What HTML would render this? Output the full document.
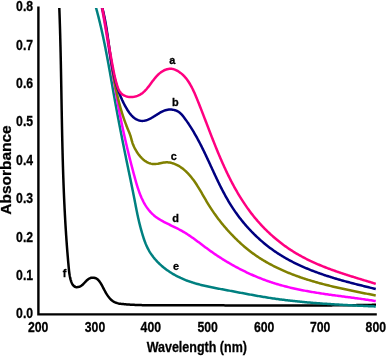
<!DOCTYPE html>
<html><head><meta charset="utf-8"><style>
html,body{margin:0;padding:0;background:#fff;width:387px;height:357px;overflow:hidden}
svg{display:block;font-family:"Liberation Sans",sans-serif}
#w{width:387px;height:357px;will-change:transform}
</style></head><body><div id="w">
<svg width="387" height="357" viewBox="0 0 387 357">
<rect width="387" height="357" fill="#fff"/>
<g>
<path d="M38.4 6.5 V314.4 H376.8" fill="none" stroke="#000" stroke-width="2.4" stroke-linecap="butt" stroke-linejoin="miter"/>
<defs><clipPath id="cp"><rect x="38" y="7.9" width="345" height="310"/></clipPath></defs><g clip-path="url(#cp)">
<path d="M59.12 3.02 59.17 4.21 59.22 5.41 59.26 6.61 59.31 7.81 59.35 9.00 59.40 10.20 59.44 11.40 59.48 12.59 59.53 13.79 59.57 14.99 59.61 16.18 59.65 17.38 59.69 18.58 59.73 19.78 59.77 20.97 59.80 22.17 59.84 23.37 59.88 24.56 59.92 25.76 59.95 26.96 59.99 28.16 60.02 29.35 60.06 30.55 60.09 31.75 60.12 32.95 60.16 34.14 60.19 35.34 60.22 36.54 60.25 37.74 60.28 38.93 60.31 40.13 60.34 41.33 60.37 42.53 60.40 43.72 60.43 44.92 60.46 46.12 60.49 47.32 60.52 48.51 60.55 49.71 60.57 50.91 60.60 52.11 60.63 53.30 60.65 54.50 60.68 55.70 60.71 56.90 60.73 58.09 60.76 59.29 60.78 60.49 60.81 61.69 60.83 62.88 60.85 64.08 60.88 65.28 60.90 66.48 60.92 67.67 60.95 68.87 60.97 70.07 60.99 71.27 61.02 72.46 61.04 73.66 61.06 74.86 61.08 76.06 61.10 77.25 61.13 78.45 61.15 79.65 61.17 80.85 61.19 82.05 61.21 83.24 61.23 84.44 61.25 85.64 61.28 86.84 61.30 88.03 61.32 89.23 61.34 90.43 61.36 91.63 61.38 92.82 61.40 94.02 61.42 95.22 61.44 96.42 61.46 97.61 61.48 98.81 61.51 100.01 61.53 101.21 61.55 102.40 61.57 103.60 61.59 104.80 61.61 106.00 61.63 107.20 61.65 108.39 61.67 109.59 61.69 110.79 61.72 111.99 61.74 113.18 61.76 114.38 61.78 115.58 61.80 116.78 61.82 117.97 61.85 119.17 61.87 120.37 61.89 121.57 61.91 122.76 61.94 123.96 61.96 125.16 61.98 126.36 62.01 127.55 62.03 128.75 62.06 129.95 62.08 131.15 62.10 132.35 62.13 133.54 62.15 134.74 62.18 135.94 62.21 137.14 62.23 138.33 62.26 139.53 62.28 140.73 62.31 141.93 62.34 143.12 62.37 144.32 62.39 145.52 62.42 146.72 62.45 147.91 62.48 149.11 62.51 150.31 62.54 151.51 62.57 152.70 62.60 153.90 62.63 155.10 62.66 156.30 62.69 157.49 62.73 158.69 62.76 159.89 62.79 161.08 62.83 162.28 62.86 163.48 62.90 164.68 62.93 165.87 62.97 167.07 63.00 168.27 63.04 169.47 63.08 170.66 63.12 171.86 63.15 173.06 63.19 174.25 63.23 175.45 63.27 176.65 63.31 177.85 63.36 179.04 63.40 180.24 63.44 181.44 63.48 182.63 63.53 183.83 63.57 185.03 63.62 186.23 63.66 187.42 63.71 188.62 63.76 189.82 63.80 191.01 63.85 192.21 63.90 193.41 63.95 194.60 64.00 195.80 64.05 197.00 64.11 198.19 64.16 199.39 64.21 200.59 64.27 201.78 64.32 202.98 64.38 204.18 64.44 205.37 64.49 206.57 64.55 207.77 64.61 208.96 64.67 210.16 64.73 211.35 64.80 212.55 64.86 213.75 64.92 214.94 64.99 216.14 65.05 217.34 65.12 218.53 65.18 219.73 65.25 220.92 65.32 222.12 65.39 223.31 65.46 224.51 65.53 225.71 65.61 226.90 65.68 228.10 65.76 229.29 65.83 230.49 65.91 231.68 65.99 232.88 66.06 234.07 66.14 235.27 66.23 236.46 66.31 237.66 66.39 238.85 66.47 240.05 66.56 241.24 66.65 242.44 66.73 243.63 66.82 244.83 66.91 246.02 67.00 247.22 67.09 248.41 67.18 249.61 67.28 250.80 67.37 251.99 67.47 253.19 67.57 254.38 67.67 255.58 67.77 256.77 67.87 257.96 67.97 259.16 68.07 260.35 68.18 261.54 68.28 262.74 68.39 263.93 68.50 265.12 68.61 266.31 68.72 267.51 68.83 268.70 68.95 269.89 69.07 271.08 69.21 272.27 69.37 273.46 69.55 274.64 69.75 275.82 69.98 277.00 70.24 278.17 70.53 279.33 70.86 280.48 71.24 281.62 71.67 282.74 72.19 283.82 72.81 284.84 73.57 285.76 74.50 286.51 75.59 286.99 76.77 287.19 77.97 287.12 79.13 286.84 80.23 286.38 81.27 285.77 82.22 285.05 83.10 284.24 83.94 283.39 84.76 282.51 85.58 281.63 86.41 280.77 87.28 279.95 88.20 279.19 89.21 278.54 90.30 278.05 91.46 277.75 92.65 277.64 93.85 277.71 95.01 277.97 96.12 278.41 97.14 279.04 98.06 279.81 98.88 280.68 99.62 281.62 100.30 282.61 100.93 283.63 101.52 284.67 102.09 285.72 102.65 286.78 103.21 287.84 103.77 288.90 104.33 289.96 104.90 291.01 105.48 292.06 106.07 293.10 106.69 294.13 107.33 295.14 108.01 296.13 108.72 297.09 109.47 298.02 110.28 298.91 111.13 299.75 112.04 300.53 113.01 301.23 114.04 301.85 115.11 302.37 116.23 302.80 117.38 303.15 118.54 303.43 119.72 303.65 120.90 303.83 122.09 303.98 123.28 304.10 124.48 304.21 125.67 304.32 126.86 304.41 128.06 304.50 129.25 304.58 130.45 304.66 131.64 304.73 132.84 304.79 134.04 304.85 135.23 304.91 136.43 304.96 137.63 305.00 138.82 305.04 140.02 305.07 141.22 305.10 142.42 305.13 143.61 305.15 144.81 305.17 146.01 305.19 147.21 305.20 148.41 305.21 149.60 305.22 150.80 305.23 152.00 305.23 153.20 305.24 154.39 305.24 155.59 305.24 156.79 305.24 157.99 305.24 159.19 305.24 160.38 305.23 161.58 305.23 162.78 305.23 163.98 305.23 165.17 305.23 166.37 305.23 167.57 305.23 168.77 305.23 169.97 305.23 171.16 305.23 172.36 305.23 173.56 305.23 174.76 305.23 175.96 305.24 177.15 305.24 178.35 305.24 179.55 305.24 180.75 305.24 181.94 305.24 183.14 305.25 184.34 305.25 185.54 305.25 186.74 305.25 187.93 305.26 189.13 305.26 190.33 305.26 191.53 305.26 192.72 305.27 193.92 305.27 195.12 305.27 196.32 305.28 197.52 305.28 198.71 305.28 199.91 305.29 201.11 305.29 202.31 305.29 203.51 305.30 204.70 305.30 205.90 305.31 207.10 305.31 208.30 305.31 209.49 305.32 210.69 305.32 211.89 305.33 213.09 305.33 214.29 305.34 215.48 305.34 216.68 305.34 217.88 305.35 219.08 305.35 220.27 305.36 221.47 305.36 222.67 305.37 223.87 305.37 225.07 305.38 226.26 305.38 227.46 305.38 228.66 305.39 229.86 305.39 231.05 305.40 232.25 305.40 233.45 305.41 234.65 305.41 235.85 305.42 237.04 305.42 238.24 305.42 239.44 305.43 240.64 305.43 241.84 305.44 243.03 305.44 244.23 305.45 245.43 305.45 246.63 305.45 247.82 305.46 249.02 305.46 250.22 305.47 251.42 305.47 252.62 305.47 253.81 305.48 255.01 305.48 256.21 305.48 257.41 305.49 258.60 305.49 259.80 305.49 261.00 305.50 262.20 305.50 263.40 305.50 264.59 305.51 265.79 305.51 266.99 305.51 268.19 305.51 269.38 305.52 270.58 305.52 271.78 305.52 272.98 305.52 274.18 305.52 275.37 305.53 276.57 305.53 277.77 305.53 278.97 305.53 280.17 305.53 281.36 305.53 282.56 305.53 283.76 305.53 284.96 305.53 286.15 305.53 287.35 305.53 288.55 305.53 289.75 305.53 290.95 305.53 292.14 305.53 293.34 305.53 294.54 305.53 295.74 305.53 296.93 305.53 298.13 305.53 299.33 305.52 300.53 305.52 301.73 305.52 302.92 305.52 304.12 305.52 305.32 305.51 306.52 305.51 307.72 305.51 308.91 305.50 310.11 305.50 311.31 305.49 312.51 305.49 313.70 305.48 314.90 305.48 316.10 305.47 317.30 305.47 318.50 305.46 319.69 305.46 320.89 305.45 322.09 305.44 323.29 305.44 324.48 305.43 325.68 305.42 326.88 305.41 328.08 305.41 329.28 305.40 330.47 305.39 331.67 305.38 332.87 305.37 334.07 305.36 335.26 305.35 336.46 305.34 337.66 305.33 338.86 305.32 340.06 305.31 341.25 305.29 342.45 305.28 343.65 305.27 344.85 305.26 346.04 305.24 347.24 305.23 348.44 305.22 349.64 305.20 350.84 305.19 352.03 305.17 353.23 305.16 354.43 305.14 355.63 305.13 356.82 305.11 358.02 305.09 359.22 305.08 360.42 305.06 361.61 305.04 362.81 305.02 364.01 305.00 365.21 304.98 366.41 304.96 367.60 304.94 368.80 304.92 370.00 304.90 371.20 304.88 372.39 304.86 373.59 304.84 374.79 304.81 375.99 304.79" fill="none" stroke="#000000" stroke-width="2.5" stroke-linejoin="round" stroke-linecap="butt"/>
<path d="M94.70 3.04 95.03 4.19 95.36 5.35 95.69 6.50 96.01 7.66 96.33 8.81 96.64 9.97 96.96 11.13 97.26 12.29 97.57 13.45 97.87 14.61 98.17 15.77 98.47 16.93 98.76 18.10 99.05 19.26 99.34 20.43 99.62 21.59 99.91 22.76 100.18 23.92 100.46 25.09 100.73 26.26 101.01 27.43 101.27 28.60 101.54 29.77 101.80 30.94 102.06 32.11 102.32 33.28 102.58 34.45 102.83 35.62 103.09 36.80 103.34 37.97 103.58 39.14 103.83 40.32 104.07 41.49 104.32 42.67 104.56 43.84 104.79 45.02 105.03 46.20 105.27 47.37 105.50 48.55 105.73 49.73 105.96 50.90 106.19 52.08 106.41 53.26 106.64 54.44 106.86 55.62 107.09 56.80 107.31 57.98 107.53 59.15 107.75 60.33 107.97 61.51 108.18 62.69 108.40 63.87 108.62 65.05 108.83 66.23 109.04 67.41 109.26 68.60 109.47 69.78 109.68 70.96 109.89 72.14 110.10 73.32 110.31 74.50 110.52 75.68 110.73 76.86 110.94 78.04 111.14 79.23 111.35 80.41 111.56 81.59 111.77 82.77 111.98 83.95 112.18 85.13 112.39 86.32 112.60 87.50 112.81 88.68 113.01 89.86 113.22 91.04 113.43 92.22 113.64 93.41 113.85 94.59 114.06 95.77 114.27 96.95 114.48 98.13 114.69 99.31 114.90 100.49 115.12 101.67 115.33 102.85 115.54 104.03 115.76 105.21 115.97 106.39 116.19 107.57 116.41 108.75 116.62 109.93 116.84 111.11 117.06 112.29 117.28 113.47 117.50 114.65 117.72 115.83 117.94 117.01 118.16 118.19 118.39 119.37 118.61 120.55 118.83 121.73 119.06 122.90 119.28 124.08 119.51 125.26 119.74 126.44 119.96 127.62 120.19 128.80 120.42 129.97 120.65 131.15 120.88 132.33 121.11 133.51 121.34 134.68 121.57 135.86 121.80 137.04 122.03 138.21 122.26 139.39 122.50 140.57 122.73 141.75 122.96 142.92 123.20 144.10 123.43 145.28 123.67 146.45 123.90 147.63 124.14 148.80 124.38 149.98 124.62 151.16 124.85 152.33 125.09 153.51 125.33 154.68 125.57 155.86 125.81 157.03 126.05 158.21 126.29 159.38 126.53 160.56 126.77 161.74 127.02 162.91 127.26 164.09 127.50 165.26 127.75 166.43 127.99 167.61 128.23 168.78 128.48 169.96 128.72 171.13 128.97 172.31 129.21 173.48 129.45 174.66 129.70 175.83 129.94 177.01 130.19 178.18 130.43 179.36 130.67 180.53 130.91 181.71 131.16 182.88 131.40 184.06 131.64 185.23 131.88 186.41 132.12 187.58 132.36 188.76 132.60 189.93 132.83 191.11 133.07 192.29 133.31 193.46 133.54 194.64 133.77 195.82 134.00 196.99 134.24 198.17 134.46 199.35 134.69 200.53 134.92 201.70 135.15 202.88 135.37 204.06 135.60 205.24 135.82 206.42 136.05 207.59 136.28 208.77 136.52 209.95 136.75 211.12 136.99 212.30 137.23 213.48 137.48 214.65 137.73 215.82 137.98 217.00 138.24 218.17 138.51 219.34 138.78 220.51 139.05 221.67 139.33 222.84 139.62 224.00 139.91 225.17 140.21 226.33 140.51 227.49 140.82 228.65 141.14 229.81 141.46 230.96 141.79 232.12 142.13 233.27 142.47 234.42 142.82 235.57 143.18 236.71 143.54 237.85 143.92 238.99 144.31 240.13 144.72 241.26 145.14 242.38 145.57 243.50 146.03 244.61 146.51 245.71 147.01 246.80 147.53 247.88 148.07 248.95 148.65 250.00 149.24 251.04 149.86 252.07 150.50 253.08 151.17 254.08 151.85 255.07 152.56 256.04 153.28 256.99 154.03 257.93 154.79 258.86 155.58 259.77 156.38 260.66 157.20 261.54 158.03 262.40 158.88 263.24 159.75 264.07 160.63 264.89 161.52 265.69 162.43 266.47 163.35 267.24 164.29 267.99 165.24 268.73 166.20 269.45 167.17 270.15 168.15 270.84 169.14 271.51 170.14 272.17 171.16 272.82 172.18 273.45 173.21 274.06 174.25 274.66 175.29 275.24 176.35 275.81 177.41 276.37 178.49 276.91 179.56 277.43 180.65 277.95 181.74 278.44 182.84 278.92 183.94 279.39 185.06 279.85 186.17 280.29 187.29 280.71 188.42 281.13 189.55 281.53 190.68 281.92 191.82 282.30 192.97 282.66 194.11 283.02 195.26 283.36 196.41 283.69 197.57 284.02 198.73 284.33 199.89 284.64 201.05 284.94 202.21 285.22 203.38 285.51 204.55 285.78 205.72 286.05 206.89 286.31 208.06 286.56 209.23 286.81 210.41 287.06 211.58 287.30 212.76 287.54 213.94 287.77 215.11 288.00 216.29 288.22 217.47 288.45 218.65 288.67 219.83 288.89 221.01 289.11 222.19 289.33 223.37 289.54 224.55 289.76 225.73 289.98 226.91 290.20 228.09 290.42 229.27 290.64 230.44 290.86 231.62 291.08 232.80 291.31 233.98 291.53 235.16 291.75 236.34 291.98 237.52 292.20 238.70 292.42 239.87 292.65 241.05 292.87 242.23 293.09 243.41 293.31 244.59 293.53 245.77 293.76 246.95 293.98 248.13 294.19 249.31 294.41 250.49 294.63 251.67 294.84 252.85 295.06 254.03 295.27 255.21 295.48 256.39 295.69 257.57 295.90 258.76 296.11 259.94 296.31 261.12 296.51 262.30 296.71 263.49 296.91 264.67 297.10 265.85 297.30 267.04 297.49 268.22 297.67 269.41 297.86 270.60 298.04 271.78 298.22 272.97 298.40 274.16 298.57 275.34 298.74 276.53 298.91 277.72 299.07 278.91 299.23 280.10 299.39 281.29 299.55 282.48 299.70 283.67 299.85 284.86 300.00 286.05 300.15 287.24 300.29 288.43 300.43 289.62 300.57 290.81 300.71 292.01 300.84 293.20 300.98 294.39 301.10 295.58 301.23 296.78 301.36 297.97 301.48 299.16 301.60 300.36 301.72 301.55 301.84 302.75 301.95 303.94 302.06 305.14 302.18 306.33 302.28 307.53 302.39 308.72 302.50 309.92 302.60 311.11 302.70 312.31 302.80 313.50 302.90 314.70 303.00 315.89 303.09 317.09 303.18 318.29 303.28 319.48 303.37 320.68 303.45 321.88 303.54 323.07 303.63 324.27 303.71 325.47 303.79 326.66 303.87 327.86 303.95 329.06 304.03 330.25 304.11 331.45 304.19 332.65 304.26 333.85 304.34 335.04 304.41 336.24 304.48 337.44 304.55 338.64 304.62 339.83 304.69 341.03 304.76 342.23 304.82 343.43 304.89 344.63 304.96 345.82 305.02 347.02 305.08 348.22 305.15 349.42 305.21 350.62 305.27 351.81 305.33 353.01 305.39 354.21 305.45 355.41 305.51 356.61 305.57 357.81 305.63 359.00 305.68 360.20 305.74 361.40 305.80 362.60 305.85 363.80 305.91 365.00 305.97 366.19 306.02 367.39 306.08 368.59 306.13 369.79 306.19 370.99 306.24 372.19 306.30 373.38 306.35 374.58 306.41 375.78 306.46" fill="none" stroke="#008080" stroke-width="2.5" stroke-linejoin="round" stroke-linecap="butt"/>
<path d="M100.92 3.06 101.15 4.24 101.38 5.42 101.61 6.59 101.83 7.77 102.06 8.95 102.28 10.13 102.50 11.31 102.72 12.49 102.94 13.67 103.15 14.84 103.37 16.02 103.58 17.20 103.79 18.39 104.00 19.57 104.21 20.75 104.42 21.93 104.62 23.11 104.83 24.29 105.03 25.47 105.24 26.65 105.44 27.84 105.64 29.02 105.84 30.20 106.03 31.38 106.23 32.57 106.43 33.75 106.62 34.93 106.82 36.12 107.01 37.30 107.21 38.48 107.40 39.67 107.59 40.85 107.78 42.03 107.97 43.22 108.16 44.40 108.35 45.59 108.54 46.77 108.73 47.95 108.92 49.14 109.11 50.32 109.29 51.51 109.48 52.69 109.67 53.88 109.86 55.06 110.04 56.24 110.23 57.43 110.42 58.61 110.60 59.80 110.79 60.98 110.98 62.17 111.16 63.35 111.35 64.54 111.54 65.72 111.72 66.90 111.91 68.09 112.10 69.27 112.29 70.46 112.48 71.64 112.67 72.83 112.86 74.01 113.05 75.19 113.24 76.38 113.43 77.56 113.62 78.75 113.81 79.93 114.00 81.11 114.20 82.30 114.39 83.48 114.59 84.66 114.78 85.85 114.98 87.03 115.18 88.21 115.37 89.39 115.57 90.58 115.78 91.76 115.98 92.94 116.18 94.12 116.38 95.30 116.59 96.49 116.80 97.67 117.00 98.85 117.21 100.03 117.42 101.21 117.64 102.39 117.85 103.57 118.06 104.75 118.28 105.93 118.50 107.11 118.72 108.29 118.94 109.46 119.16 110.64 119.39 111.82 119.61 113.00 119.84 114.18 120.07 115.35 120.30 116.53 120.54 117.71 120.77 118.88 121.01 120.06 121.25 121.23 121.49 122.41 121.73 123.58 121.98 124.75 122.22 125.93 122.47 127.10 122.72 128.27 122.98 129.45 123.23 130.62 123.49 131.79 123.74 132.96 124.00 134.13 124.26 135.30 124.53 136.47 124.79 137.64 125.06 138.81 125.32 139.98 125.59 141.15 125.86 142.32 126.14 143.48 126.41 144.65 126.69 145.82 126.96 146.98 127.24 148.15 127.52 149.32 127.80 150.48 128.09 151.65 128.37 152.81 128.66 153.98 128.95 155.14 129.24 156.30 129.53 157.47 129.82 158.63 130.11 159.79 130.41 160.96 130.70 162.12 131.00 163.28 131.30 164.44 131.60 165.60 131.90 166.76 132.20 167.92 132.51 169.08 132.81 170.24 133.12 171.40 133.43 172.56 133.74 173.72 134.05 174.88 134.36 176.04 134.67 177.19 134.99 178.35 135.31 179.51 135.63 180.66 135.96 181.81 136.29 182.97 136.63 184.12 136.98 185.26 137.33 186.41 137.69 187.55 138.07 188.69 138.45 189.83 138.84 190.96 139.25 192.09 139.66 193.21 140.09 194.33 140.54 195.45 141.00 196.55 141.47 197.66 141.97 198.75 142.48 199.83 143.01 200.91 143.56 201.98 144.13 203.03 144.72 204.07 145.33 205.10 145.97 206.12 146.63 207.12 147.32 208.10 148.03 209.07 148.76 210.01 149.53 210.94 150.32 211.84 151.13 212.72 151.98 213.57 152.85 214.40 153.74 215.19 154.66 215.96 155.61 216.70 156.58 217.41 157.56 218.10 158.56 218.76 159.57 219.40 160.60 220.02 161.64 220.62 162.68 221.20 163.74 221.78 164.80 222.34 165.86 222.88 166.94 223.42 168.01 223.96 169.09 224.48 170.17 225.00 171.25 225.52 172.33 226.04 173.41 226.57 174.49 227.09 175.56 227.62 176.64 228.15 177.71 228.69 178.77 229.24 179.83 229.80 180.89 230.37 181.93 230.96 182.97 231.56 184.00 232.17 185.03 232.79 186.05 233.42 187.06 234.07 188.07 234.72 189.07 235.38 190.06 236.05 191.05 236.73 192.03 237.41 193.01 238.10 193.99 238.80 194.96 239.50 195.93 240.21 196.90 240.92 197.86 241.63 198.82 242.35 199.78 243.07 200.74 243.79 201.70 244.51 202.66 245.23 203.62 245.95 204.58 246.67 205.54 247.38 206.50 248.10 207.47 248.81 208.44 249.52 209.41 250.22 210.38 250.92 211.36 251.62 212.34 252.31 213.32 252.99 214.31 253.67 215.30 254.35 216.29 255.02 217.29 255.68 218.29 256.35 219.29 257.00 220.30 257.65 221.31 258.30 222.32 258.94 223.34 259.58 224.36 260.21 225.38 260.84 226.41 261.46 227.44 262.07 228.47 262.68 229.50 263.29 230.54 263.89 231.58 264.49 232.63 265.08 233.67 265.66 234.72 266.24 235.77 266.82 236.83 267.39 237.89 267.95 238.95 268.51 240.01 269.06 241.08 269.61 242.15 270.15 243.22 270.68 244.30 271.21 245.38 271.74 246.46 272.26 247.54 272.77 248.63 273.28 249.72 273.78 250.81 274.27 251.91 274.76 253.00 275.25 254.10 275.73 255.21 276.20 256.31 276.66 257.42 277.12 258.53 277.57 259.64 278.02 260.76 278.46 261.87 278.90 262.99 279.32 264.12 279.74 265.24 280.16 266.37 280.57 267.50 280.97 268.63 281.36 269.77 281.75 270.90 282.13 272.04 282.51 273.18 282.87 274.33 283.24 275.47 283.59 276.62 283.94 277.77 284.28 278.92 284.62 280.07 284.95 281.23 285.27 282.38 285.59 283.54 285.90 284.70 286.21 285.86 286.51 287.03 286.80 288.19 287.09 289.35 287.38 290.52 287.66 291.69 287.93 292.86 288.20 294.03 288.46 295.20 288.72 296.37 288.98 297.54 289.23 298.71 289.47 299.89 289.71 301.06 289.95 302.24 290.18 303.42 290.41 304.60 290.64 305.77 290.86 306.95 291.08 308.13 291.29 309.31 291.50 310.50 291.71 311.68 291.91 312.86 292.11 314.04 292.31 315.22 292.50 316.41 292.70 317.59 292.89 318.78 293.07 319.96 293.26 321.15 293.44 322.33 293.62 323.52 293.79 324.71 293.97 325.89 294.14 327.08 294.31 328.27 294.48 329.45 294.65 330.64 294.82 331.83 294.98 333.02 295.15 334.20 295.31 335.39 295.47 336.58 295.63 337.77 295.79 338.96 295.95 340.15 296.11 341.34 296.26 342.52 296.42 343.71 296.58 344.90 296.73 346.09 296.89 347.28 297.05 348.47 297.20 349.66 297.36 350.85 297.52 352.04 297.67 353.22 297.83 354.41 297.99 355.60 298.15 356.79 298.31 357.98 298.47 359.17 298.63 360.35 298.80 361.54 298.96 362.73 299.13 363.92 299.30 365.10 299.47 366.29 299.64 367.48 299.81 368.66 299.98 369.85 300.16 371.03 300.34 372.22 300.52 373.41 300.71 374.59 300.89 375.77 301.08" fill="none" stroke="#FF00FF" stroke-width="2.5" stroke-linejoin="round" stroke-linecap="butt"/>
<path d="M101.00 3.05 101.28 4.21 101.56 5.38 101.84 6.54 102.10 7.71 102.37 8.88 102.63 10.05 102.88 11.22 103.13 12.39 103.38 13.56 103.62 14.73 103.86 15.91 104.09 17.08 104.32 18.26 104.54 19.43 104.77 20.61 104.98 21.79 105.20 22.96 105.41 24.14 105.62 25.32 105.82 26.50 106.03 27.68 106.23 28.86 106.42 30.04 106.62 31.23 106.81 32.41 107.00 33.59 107.19 34.77 107.38 35.95 107.56 37.14 107.74 38.32 107.92 39.51 108.10 40.69 108.28 41.87 108.46 43.06 108.64 44.24 108.81 45.43 108.99 46.61 109.16 47.80 109.34 48.98 109.51 50.16 109.69 51.35 109.86 52.53 110.03 53.72 110.21 54.90 110.38 56.09 110.56 57.27 110.73 58.46 110.91 59.64 111.09 60.83 111.27 62.01 111.44 63.19 111.63 64.38 111.81 65.56 111.99 66.74 112.18 67.93 112.37 69.11 112.56 70.29 112.75 71.47 112.94 72.66 113.14 73.84 113.34 75.02 113.54 76.20 113.74 77.38 113.95 78.56 114.16 79.74 114.37 80.91 114.59 82.09 114.81 83.27 115.04 84.45 115.26 85.62 115.49 86.80 115.73 87.97 115.97 89.14 116.21 90.32 116.46 91.49 116.72 92.66 116.97 93.83 117.24 95.00 117.50 96.16 117.78 97.33 118.06 98.49 118.34 99.66 118.63 100.82 118.92 101.98 119.22 103.14 119.53 104.30 119.84 105.45 120.16 106.61 120.48 107.76 120.81 108.91 121.15 110.06 121.49 111.21 121.84 112.35 122.19 113.50 122.55 114.64 122.92 115.78 123.29 116.92 123.67 118.05 124.06 119.18 124.46 120.32 124.86 121.44 125.27 122.57 125.68 123.69 126.11 124.81 126.54 125.93 126.97 127.04 127.42 128.16 127.87 129.27 128.33 130.37 128.79 131.48 129.25 132.58 129.70 133.69 130.11 134.82 130.49 135.95 130.83 137.10 131.15 138.25 131.46 139.41 131.77 140.57 132.09 141.72 132.45 142.86 132.84 143.99 133.28 145.11 133.77 146.20 134.28 147.29 134.82 148.35 135.39 149.41 135.98 150.45 136.60 151.47 137.25 152.48 137.92 153.47 138.63 154.44 139.36 155.39 140.12 156.31 140.91 157.21 141.74 158.07 142.60 158.91 143.50 159.70 144.43 160.45 145.40 161.15 146.41 161.79 147.46 162.37 148.54 162.88 149.66 163.30 150.81 163.64 151.98 163.89 153.17 164.03 154.37 164.08 155.56 164.03 156.75 163.88 157.93 163.68 159.10 163.43 160.27 163.17 161.44 162.92 162.62 162.69 163.80 162.50 164.99 162.39 166.19 162.34 167.39 162.36 168.58 162.45 169.77 162.60 170.94 162.82 172.11 163.10 173.26 163.44 174.39 163.84 175.50 164.29 176.59 164.78 177.65 165.33 178.70 165.91 179.72 166.53 180.72 167.19 181.70 167.88 182.66 168.60 183.59 169.34 184.51 170.12 185.40 170.91 186.28 171.73 187.13 172.57 187.97 173.43 188.79 174.30 189.59 175.19 190.37 176.10 191.14 177.02 191.88 177.95 192.62 178.90 193.33 179.86 194.04 180.83 194.73 181.81 195.41 182.79 196.07 183.79 196.73 184.79 197.37 185.80 198.01 186.81 198.64 187.83 199.26 188.86 199.87 189.89 200.48 190.92 201.09 191.95 201.69 192.99 202.29 194.02 202.89 195.06 203.48 196.10 204.08 197.14 204.68 198.17 205.28 199.21 205.88 200.24 206.49 201.28 207.10 202.31 207.72 203.33 208.34 204.35 208.97 205.37 209.61 206.38 210.25 207.39 210.91 208.40 211.56 209.40 212.23 210.40 212.90 211.39 213.58 212.37 214.26 213.36 214.95 214.34 215.65 215.31 216.35 216.28 217.06 217.24 217.78 218.20 218.50 219.16 219.23 220.10 219.97 221.05 220.71 221.99 221.46 222.92 222.21 223.85 222.97 224.78 223.74 225.70 224.51 226.61 225.29 227.52 226.07 228.43 226.87 229.33 227.66 230.22 228.46 231.11 229.27 232.00 230.08 232.88 230.90 233.75 231.73 234.62 232.56 235.48 233.39 236.34 234.23 237.19 235.08 238.04 235.93 238.88 236.79 239.72 237.65 240.55 238.52 241.37 239.39 242.19 240.27 243.01 241.16 243.81 242.05 244.61 242.95 245.40 243.85 246.19 244.76 246.97 245.68 247.74 246.60 248.50 247.53 249.26 248.46 250.00 249.40 250.74 250.35 251.47 251.31 252.20 252.27 252.91 253.24 253.62 254.21 254.32 255.19 255.01 256.17 255.69 257.16 256.36 258.16 257.03 259.16 257.68 260.17 258.33 261.18 258.97 262.19 259.60 263.22 260.23 264.24 260.85 265.27 261.45 266.31 262.06 267.35 262.65 268.39 263.24 269.44 263.81 270.50 264.38 271.55 264.95 272.61 265.50 273.68 266.05 274.75 266.59 275.82 267.13 276.89 267.65 277.97 268.17 279.05 268.68 280.14 269.19 281.23 269.69 282.32 270.18 283.42 270.66 284.51 271.14 285.61 271.62 286.72 272.08 287.82 272.54 288.93 272.99 290.04 273.44 291.16 273.88 292.27 274.32 293.39 274.74 294.51 275.17 295.63 275.58 296.76 276.00 297.88 276.40 299.01 276.80 300.14 277.20 301.27 277.59 302.41 277.97 303.54 278.35 304.68 278.73 305.82 279.09 306.96 279.46 308.10 279.82 309.25 280.17 310.39 280.52 311.54 280.87 312.69 281.21 313.83 281.55 314.99 281.88 316.14 282.21 317.29 282.54 318.44 282.86 319.60 283.17 320.75 283.49 321.91 283.80 323.07 284.10 324.23 284.40 325.39 284.70 326.55 285.00 327.71 285.29 328.87 285.58 330.03 285.87 331.20 286.15 332.36 286.43 333.53 286.70 334.69 286.98 335.86 287.25 337.02 287.52 338.19 287.79 339.36 288.05 340.53 288.31 341.70 288.57 342.87 288.83 344.04 289.08 345.21 289.34 346.38 289.59 347.55 289.84 348.72 290.08 349.89 290.33 351.07 290.57 352.24 290.81 353.41 291.06 354.58 291.30 355.76 291.53 356.93 291.77 358.11 292.01 359.28 292.24 360.45 292.48 361.63 292.71 362.80 292.94 363.98 293.18 365.15 293.41 366.33 293.64 367.50 293.87 368.68 294.10 369.85 294.33 371.03 294.56 372.20 294.79 373.38 295.02 374.55 295.25 375.73 295.48" fill="none" stroke="#808000" stroke-width="2.5" stroke-linejoin="round" stroke-linecap="butt"/>
<path d="M100.92 3.06 101.26 4.20 101.59 5.36 101.91 6.51 102.22 7.67 102.53 8.83 102.82 9.99 103.11 11.15 103.38 12.32 103.65 13.49 103.92 14.66 104.17 15.83 104.42 17.00 104.66 18.18 104.89 19.35 105.12 20.53 105.34 21.71 105.55 22.89 105.76 24.07 105.97 25.25 106.17 26.43 106.36 27.62 106.55 28.80 106.74 29.98 106.92 31.17 107.10 32.35 107.28 33.54 107.45 34.72 107.62 35.91 107.79 37.10 107.96 38.28 108.13 39.47 108.29 40.66 108.46 41.85 108.62 43.03 108.78 44.22 108.94 45.41 109.11 46.60 109.27 47.79 109.44 48.97 109.60 50.16 109.77 51.35 109.94 52.53 110.11 53.72 110.28 54.91 110.46 56.09 110.64 57.28 110.82 58.46 111.01 59.65 111.20 60.83 111.39 62.01 111.59 63.19 111.80 64.38 112.00 65.56 112.22 66.74 112.44 67.91 112.67 69.09 112.90 70.27 113.14 71.44 113.39 72.62 113.64 73.79 113.90 74.96 114.17 76.12 114.45 77.29 114.73 78.46 115.03 79.62 115.33 80.78 115.65 81.93 115.97 83.09 116.30 84.24 116.64 85.39 117.00 86.53 117.36 87.68 117.74 88.82 118.12 89.95 118.52 91.08 118.93 92.21 119.35 93.33 119.78 94.45 120.22 95.56 120.68 96.67 121.15 97.78 121.63 98.87 122.12 99.97 122.63 101.05 123.15 102.13 123.68 103.21 124.22 104.27 124.78 105.34 125.35 106.39 125.94 107.44 126.54 108.47 127.16 109.50 127.80 110.52 128.46 111.51 129.15 112.50 129.86 113.46 130.61 114.39 131.40 115.30 132.22 116.17 133.09 117.00 134.00 117.77 134.96 118.49 135.97 119.14 137.03 119.70 138.13 120.16 139.28 120.52 140.45 120.76 141.64 120.88 142.84 120.88 144.03 120.76 145.21 120.54 146.37 120.22 147.50 119.83 148.61 119.37 149.70 118.87 150.77 118.33 151.82 117.76 152.86 117.17 153.89 116.55 154.91 115.92 155.92 115.27 156.93 114.62 157.93 113.97 158.95 113.33 159.97 112.70 161.01 112.11 162.07 111.55 163.15 111.04 164.27 110.59 165.41 110.22 166.57 109.93 167.75 109.72 168.94 109.59 170.14 109.54 171.34 109.57 172.53 109.68 173.71 109.88 174.88 110.16 176.01 110.54 177.12 111.01 178.17 111.58 179.16 112.25 180.10 113.00 180.98 113.81 181.80 114.68 182.59 115.59 183.34 116.52 184.07 117.47 184.79 118.43 185.49 119.40 186.19 120.38 186.88 121.36 187.56 122.34 188.24 123.33 188.90 124.33 189.56 125.33 190.21 126.34 190.86 127.35 191.49 128.37 192.12 129.39 192.75 130.41 193.36 131.44 193.97 132.47 194.57 133.51 195.17 134.55 195.76 135.59 196.35 136.63 196.93 137.68 197.50 138.74 198.07 139.79 198.64 140.85 199.19 141.91 199.75 142.97 200.30 144.04 200.84 145.10 201.39 146.17 201.92 147.25 202.46 148.32 202.99 149.39 203.51 150.47 204.04 151.55 204.56 152.63 205.08 153.71 205.59 154.79 206.10 155.88 206.62 156.96 207.12 158.05 207.63 159.13 208.14 160.22 208.64 161.31 209.15 162.39 209.65 163.48 210.15 164.57 210.65 165.66 211.15 166.75 211.66 167.84 212.16 168.93 212.66 170.01 213.16 171.10 213.67 172.19 214.17 173.28 214.68 174.36 215.19 175.45 215.70 176.54 216.21 177.62 216.72 178.70 217.24 179.79 217.75 180.87 218.27 181.95 218.80 183.02 219.33 184.10 219.86 185.18 220.39 186.25 220.93 187.32 221.47 188.39 222.02 189.46 222.57 190.52 223.12 191.58 223.68 192.64 224.25 193.70 224.82 194.76 225.39 195.81 225.97 196.86 226.56 197.90 227.15 198.94 227.75 199.98 228.36 201.02 228.97 202.05 229.59 203.07 230.22 204.10 230.85 205.11 231.49 206.13 232.14 207.14 232.79 208.14 233.45 209.14 234.12 210.13 234.80 211.12 235.48 212.11 236.18 213.09 236.88 214.06 237.58 215.03 238.30 215.99 239.02 216.95 239.74 217.90 240.48 218.85 241.22 219.79 241.97 220.73 242.73 221.66 243.49 222.58 244.26 223.50 245.03 224.42 245.82 225.32 246.61 226.23 247.40 227.12 248.21 228.01 249.02 228.89 249.83 229.77 250.66 230.64 251.48 231.51 252.32 232.37 253.16 233.22 254.01 234.07 254.87 234.91 255.73 235.74 256.60 236.57 257.47 237.39 258.35 238.20 259.24 239.01 260.13 239.81 261.03 240.60 261.93 241.39 262.85 242.17 263.76 242.94 264.69 243.71 265.61 244.46 266.55 245.21 267.49 245.96 268.44 246.69 269.39 247.42 270.35 248.14 271.31 248.85 272.28 249.56 273.26 250.25 274.24 250.94 275.23 251.62 276.22 252.30 277.22 252.96 278.22 253.62 279.23 254.27 280.24 254.91 281.26 255.54 282.28 256.16 283.31 256.78 284.34 257.39 285.38 257.99 286.42 258.58 287.47 259.17 288.52 259.75 289.57 260.32 290.63 260.88 291.69 261.44 292.76 261.99 293.82 262.53 294.90 263.07 295.97 263.59 297.05 264.12 298.14 264.63 299.22 265.14 300.31 265.64 301.40 266.13 302.50 266.62 303.59 267.11 304.69 267.58 305.80 268.05 306.90 268.51 308.01 268.97 309.12 269.42 310.23 269.87 311.35 270.31 312.47 270.75 313.58 271.18 314.71 271.60 315.83 272.02 316.95 272.43 318.08 272.84 319.21 273.25 320.34 273.65 321.47 274.04 322.61 274.43 323.74 274.81 324.88 275.20 326.02 275.57 327.16 275.94 328.30 276.31 329.44 276.67 330.58 277.03 331.73 277.39 332.87 277.74 334.02 278.09 335.17 278.44 336.32 278.78 337.47 279.11 338.62 279.45 339.77 279.78 340.92 280.11 342.08 280.43 343.23 280.76 344.39 281.08 345.54 281.39 346.70 281.71 347.86 282.02 349.02 282.33 350.18 282.63 351.34 282.94 352.50 283.24 353.66 283.54 354.82 283.84 355.98 284.14 357.14 284.43 358.30 284.72 359.47 285.02 360.63 285.31 361.79 285.59 362.96 285.88 364.12 286.17 365.28 286.45 366.45 286.74 367.61 287.02 368.78 287.30 369.94 287.59 371.11 287.87 372.27 288.15 373.44 288.43 374.61 288.71 375.77 288.99" fill="none" stroke="#000080" stroke-width="2.5" stroke-linejoin="round" stroke-linecap="butt"/>
<path d="M101.42 3.00 101.63 4.18 101.85 5.35 102.06 6.53 102.28 7.71 102.49 8.89 102.70 10.07 102.92 11.25 103.13 12.43 103.34 13.60 103.55 14.78 103.76 15.96 103.97 17.14 104.17 18.32 104.38 19.50 104.59 20.68 104.80 21.86 105.00 23.04 105.21 24.22 105.41 25.40 105.62 26.58 105.83 27.76 106.03 28.94 106.24 30.12 106.44 31.30 106.65 32.48 106.85 33.66 107.06 34.84 107.26 36.02 107.47 37.20 107.67 38.38 107.88 39.56 108.09 40.74 108.29 41.92 108.50 43.10 108.71 44.28 108.91 45.46 109.12 46.64 109.33 47.82 109.54 49.00 109.75 50.17 109.96 51.35 110.17 52.53 110.38 53.71 110.59 54.89 110.80 56.07 111.02 57.25 111.23 58.43 111.45 59.60 111.66 60.78 111.88 61.96 112.10 63.14 112.32 64.31 112.54 65.49 112.76 66.67 112.98 67.85 113.20 69.02 113.43 70.20 113.66 71.37 113.89 72.55 114.13 73.72 114.38 74.89 114.64 76.06 114.90 77.23 115.18 78.40 115.46 79.56 115.76 80.72 116.07 81.88 116.39 83.03 116.73 84.18 117.09 85.32 117.46 86.46 117.86 87.59 118.30 88.70 118.79 89.80 119.35 90.86 119.99 91.87 120.72 92.81 121.56 93.67 122.48 94.43 123.48 95.09 124.54 95.64 125.65 96.10 126.79 96.45 127.96 96.72 129.15 96.89 130.34 96.98 131.54 96.99 132.73 96.91 133.92 96.77 135.10 96.54 136.26 96.24 137.40 95.87 138.51 95.42 139.58 94.90 140.62 94.31 141.62 93.65 142.58 92.93 143.50 92.16 144.38 91.35 145.22 90.50 146.04 89.62 146.83 88.72 147.59 87.80 148.34 86.86 149.07 85.92 149.79 84.96 150.51 84.00 151.22 83.03 151.93 82.07 152.64 81.11 153.37 80.15 154.10 79.21 154.85 78.27 155.62 77.35 156.40 76.45 157.22 75.57 158.06 74.72 158.94 73.91 159.85 73.13 160.79 72.39 161.78 71.71 162.79 71.07 163.84 70.50 164.93 69.99 166.04 69.56 167.19 69.21 168.36 68.96 169.55 68.81 170.74 68.77 171.94 68.86 173.11 69.08 174.27 69.41 175.38 69.84 176.47 70.34 177.53 70.91 178.55 71.52 179.55 72.18 180.52 72.89 181.46 73.63 182.36 74.42 183.24 75.24 184.08 76.09 184.89 76.97 185.67 77.87 186.43 78.81 187.15 79.76 187.85 80.73 188.52 81.72 189.17 82.73 189.80 83.75 190.40 84.78 190.99 85.83 191.56 86.88 192.11 87.95 192.64 89.02 193.16 90.10 193.67 91.18 194.17 92.27 194.65 93.37 195.13 94.46 195.60 95.57 196.06 96.67 196.52 97.78 196.97 98.89 197.42 100.00 197.87 101.11 198.32 102.22 198.76 103.33 199.21 104.44 199.65 105.56 200.09 106.67 200.53 107.78 200.96 108.90 201.40 110.01 201.84 111.13 202.27 112.25 202.70 113.36 203.14 114.48 203.57 115.60 204.00 116.71 204.43 117.83 204.86 118.95 205.29 120.07 205.72 121.19 206.15 122.30 206.57 123.42 207.00 124.54 207.43 125.66 207.86 126.78 208.29 127.90 208.72 129.01 209.15 130.13 209.58 131.25 210.01 132.37 210.44 133.48 210.87 134.60 211.31 135.72 211.74 136.83 212.18 137.95 212.61 139.06 213.05 140.18 213.49 141.29 213.93 142.41 214.37 143.52 214.82 144.63 215.26 145.74 215.71 146.85 216.16 147.96 216.61 149.07 217.07 150.18 217.52 151.29 217.98 152.40 218.44 153.50 218.90 154.61 219.37 155.71 219.84 156.81 220.31 157.91 220.78 159.01 221.26 160.11 221.74 161.21 222.22 162.31 222.71 163.40 223.20 164.49 223.69 165.59 224.18 166.68 224.68 167.76 225.18 168.85 225.69 169.94 226.20 171.02 226.71 172.10 227.23 173.18 227.75 174.26 228.28 175.34 228.81 176.41 229.34 177.49 229.88 178.56 230.42 179.62 230.96 180.69 231.52 181.75 232.07 182.81 232.63 183.87 233.19 184.93 233.76 185.98 234.34 187.03 234.92 188.08 235.50 189.13 236.09 190.17 236.69 191.21 237.28 192.25 237.89 193.28 238.50 194.31 239.12 195.34 239.74 196.36 240.36 197.38 241.00 198.40 241.64 199.41 242.28 200.42 242.93 201.43 243.59 202.43 244.25 203.43 244.92 204.42 245.59 205.41 246.27 206.40 246.96 207.38 247.65 208.35 248.35 209.33 249.06 210.29 249.77 211.26 250.49 212.21 251.22 213.17 251.95 214.11 252.69 215.06 253.43 215.99 254.19 216.92 254.95 217.85 255.71 218.77 256.49 219.68 257.27 220.59 258.05 221.50 258.85 222.39 259.65 223.29 260.45 224.17 261.26 225.05 262.08 225.93 262.91 226.79 263.74 227.65 264.58 228.51 265.42 229.36 266.27 230.20 267.13 231.04 267.99 231.87 268.86 232.69 269.74 233.51 270.62 234.32 271.51 235.13 272.40 235.93 273.30 236.72 274.20 237.50 275.11 238.28 276.03 239.05 276.95 239.81 277.88 240.57 278.81 241.32 279.75 242.07 280.70 242.80 281.65 243.53 282.60 244.25 283.56 244.97 284.53 245.67 285.50 246.37 286.48 247.07 287.46 247.75 288.45 248.43 289.44 249.10 290.44 249.76 291.44 250.41 292.45 251.06 293.47 251.70 294.48 252.33 295.51 252.95 296.54 253.57 297.57 254.17 298.61 254.77 299.65 255.36 300.69 255.94 301.74 256.52 302.80 257.09 303.86 257.65 304.92 258.20 305.99 258.75 307.06 259.28 308.13 259.82 309.21 260.34 310.29 260.86 311.37 261.37 312.46 261.87 313.54 262.37 314.64 262.86 315.73 263.35 316.83 263.83 317.93 264.30 319.03 264.77 320.13 265.24 321.24 265.69 322.35 266.15 323.46 266.59 324.58 267.03 325.69 267.47 326.81 267.90 327.93 268.33 329.05 268.75 330.17 269.17 331.29 269.58 332.42 269.99 333.54 270.40 334.67 270.80 335.80 271.20 336.93 271.59 338.07 271.99 339.20 272.37 340.33 272.76 341.47 273.14 342.60 273.52 343.74 273.89 344.88 274.27 346.02 274.64 347.16 275.01 348.30 275.37 349.44 275.74 350.58 276.10 351.72 276.46 352.87 276.81 354.01 277.17 355.15 277.53 356.30 277.88 357.44 278.23 358.59 278.58 359.73 278.93 360.88 279.28 362.02 279.63 363.17 279.98 364.32 280.33 365.46 280.68 366.61 281.03 367.75 281.37 368.90 281.72 370.05 282.07 371.19 282.42 372.34 282.77 373.48 283.12 374.63 283.47 375.77 283.82" fill="none" stroke="#FF0080" stroke-width="2.5" stroke-linejoin="round" stroke-linecap="butt"/>
</g>
<g font-family="Liberation Sans" font-weight="bold" fill="#000" stroke="#000" stroke-width="0.3">
<text transform="translate(38.20 332.30) scale(0.800 1)" text-anchor="middle" font-size="15.30">200</text>
<text transform="translate(95.00 332.30) scale(0.800 1)" text-anchor="middle" font-size="15.30">300</text>
<text transform="translate(150.80 332.30) scale(0.800 1)" text-anchor="middle" font-size="15.30">400</text>
<text transform="translate(207.60 332.30) scale(0.800 1)" text-anchor="middle" font-size="15.30">500</text>
<text transform="translate(264.10 332.30) scale(0.800 1)" text-anchor="middle" font-size="15.30">600</text>
<text transform="translate(320.10 332.30) scale(0.800 1)" text-anchor="middle" font-size="15.30">700</text>
<text transform="translate(375.80 332.30) scale(0.800 1)" text-anchor="middle" font-size="15.30">800</text>
<text transform="translate(33.10 318.30) scale(0.800 1)" text-anchor="end" font-size="15.30">0.0</text>
<text transform="translate(33.10 279.90) scale(0.800 1)" text-anchor="end" font-size="15.30">0.1</text>
<text transform="translate(33.10 241.50) scale(0.800 1)" text-anchor="end" font-size="15.30">0.2</text>
<text transform="translate(33.10 203.10) scale(0.800 1)" text-anchor="end" font-size="15.30">0.3</text>
<text transform="translate(33.10 164.70) scale(0.800 1)" text-anchor="end" font-size="15.30">0.4</text>
<text transform="translate(33.10 126.30) scale(0.800 1)" text-anchor="end" font-size="15.30">0.5</text>
<text transform="translate(33.10 87.90) scale(0.800 1)" text-anchor="end" font-size="15.30">0.6</text>
<text transform="translate(33.10 49.50) scale(0.800 1)" text-anchor="end" font-size="15.30">0.7</text>
<text transform="translate(33.10 11.10) scale(0.800 1)" text-anchor="end" font-size="15.30">0.8</text>
<text transform="translate(196.80 351.70) scale(0.835 1)" text-anchor="middle" font-size="15.00">Wavelength (nm)</text>
<text transform="translate(10.7 170.0) rotate(-90) scale(1 0.92)" text-anchor="middle" font-size="15.5">Absorbance</text>
<text transform="translate(172.30 64.40) scale(0.950 1)" text-anchor="middle" font-size="11.50">a</text>
<text transform="translate(175.30 105.80) scale(0.950 1)" text-anchor="middle" font-size="11.50">b</text>
<text transform="translate(173.80 159.60) scale(0.950 1)" text-anchor="middle" font-size="11.50">c</text>
<text transform="translate(175.50 222.20) scale(0.950 1)" text-anchor="middle" font-size="11.50">d</text>
<text transform="translate(176.10 270.00) scale(0.950 1)" text-anchor="middle" font-size="11.50">e</text>
<text transform="translate(64.50 276.60) scale(0.950 1)" text-anchor="middle" font-size="11.50">f</text>
</g></g></svg>
</div></body></html>
